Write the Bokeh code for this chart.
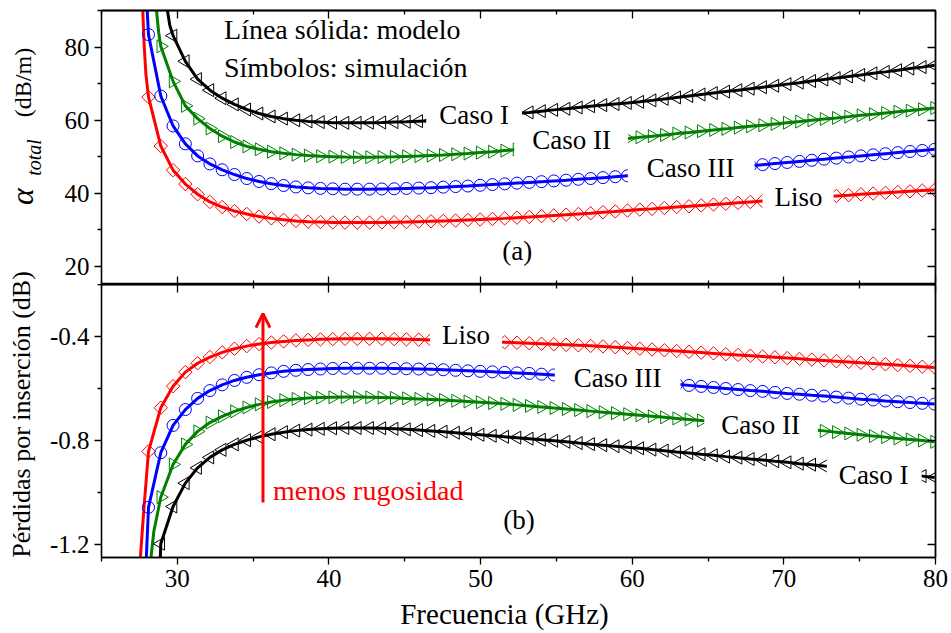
import math
from bokeh.plotting import figure
from bokeh.layouts import column, row
from bokeh.models import (Range1d, LinearAxis, FixedTicker, PrintfTickFormatter,
                          Label, Arrow, OpenHead)
from bokeh.embed import file_html
from bokeh.resources import INLINE

FONT = "Liberation Serif"

# ---------------- data ----------------
freq_sim = [28.10, 28.91, 29.72, 30.53, 31.34, 32.15, 32.96, 33.77, 34.58, 35.39,
            36.20, 37.01, 37.82, 38.63, 39.44, 40.25, 41.06, 41.87, 42.68, 43.49,
            44.30, 45.11, 45.92, 46.73, 47.54, 48.35, 49.16, 49.97, 50.78, 51.59,
            52.40, 53.21, 54.02, 54.83, 55.64, 56.45, 57.26, 58.07, 58.88, 59.69,
            60.50, 61.31, 62.12, 62.93, 63.74, 64.55, 65.36, 66.17, 66.98, 67.79,
            68.60, 69.41, 70.22, 71.03, 71.84, 72.65, 73.46, 74.27, 75.08, 75.89,
            76.70, 77.51, 78.32, 79.13, 79.94]

# (a) alpha_total (dB/m)
liso_a = [66.3, 52.9, 46.3, 42.5, 39.7, 37.6, 36.2, 35.1, 34.3, 33.6,
          33.1, 32.7, 32.4, 32.2, 32.1, 32.0, 31.95, 31.95, 31.95, 32.0,
          32.05, 32.1, 32.2, 32.3, 32.4, 32.5, 32.65, 32.8, 32.95, 33.1,
          33.3, 33.5, 33.7, 33.9, 34.1, 34.3, 34.5, 34.8, 35.0, 35.25,
          35.5, 35.7, 35.95, 36.2, 36.4, 36.65, 36.9, 37.1, 37.35, 37.6,
          37.85, 38.1, 38.3, 38.55, 38.8, 39.0, 39.25, 39.45, 39.7, 39.9,
          40.1, 40.3, 40.5, 40.7, 40.9]
caso3_a = [83.4, 66.6, 58.4, 53.5, 50.2, 48.0, 46.4, 45.1, 44.0, 43.2,
           42.6, 42.1, 41.7, 41.45, 41.3, 41.2, 41.1, 41.1, 41.1, 41.15,
           41.2, 41.3, 41.4, 41.5, 41.65, 41.8, 41.95, 42.15, 42.35, 42.55,
           42.75, 42.95, 43.15, 43.35, 43.55, 43.8, 44.0, 44.25, 44.5, 44.75,
           45.0, 45.25, 45.5, 45.8, 46.05, 46.35, 46.6, 46.9, 47.2, 47.5,
           47.8, 48.1, 48.4, 48.7, 49.0, 49.3, 49.6, 49.9, 50.2, 50.5,
           50.8, 51.1, 51.4, 51.7, 52.0]
caso2_a = [80.2, 70.6, 63.9, 60.4, 57.7, 55.6, 54.0, 52.8, 52.0,
           51.35, 50.9, 50.55, 50.3, 50.1, 50.0, 49.9, 49.85, 49.85, 49.9,
           49.95, 50.05, 50.15, 50.3, 50.45, 50.65, 50.85, 51.1, 51.35, 51.65,
           51.95, 52.3, 52.6, 52.95, 53.3, 53.6, 53.95, 54.3, 54.6, 54.95,
           55.3, 55.6, 55.95, 56.3, 56.6, 56.95, 57.3, 57.6, 57.95, 58.3,
           58.6, 58.95, 59.3, 59.6, 59.95, 60.3, 60.6, 60.95, 61.3, 61.6,
           61.95, 62.3, 62.6, 62.95, 63.3]
caso1_a = [83.1, 76.1, 71.2, 68.2, 66.0, 64.3, 62.9, 61.8,
           61.0, 60.4, 59.95, 59.65, 59.45, 59.3, 59.25, 59.25, 59.3, 59.35,
           59.45, 59.55, 59.7, 59.85, 60.1, 60.35, 60.6, 60.9, 61.2, 61.5,
           61.8, 62.1, 62.45, 62.8, 63.1, 63.45, 63.8, 64.1, 64.4, 64.7,
           65.0, 65.4, 65.8, 66.2, 66.6, 67.0, 67.4, 67.8, 68.2, 68.6,
           69.0, 69.4, 69.85, 70.25, 70.7, 71.1, 71.5, 71.95, 72.35, 72.8,
           73.2, 73.65, 74.1, 74.5, 75.0]

# model curves near cut-off (points before the first simulated point)
liso_a_lead_f = [27.68, 27.74, 27.82, 27.93]
liso_a_lead_v = [96.0, 88.0, 80.0, 72.5]
caso3_a_lead_f = [27.96, 28.02]
caso3_a_lead_v = [96.0, 89.5]
caso2_a_lead_f = [28.55, 28.65, 28.77]
caso2_a_lead_v = [96.0, 89.0, 84.0]
caso1_a_lead_f = [29.25, 29.35, 29.50]
caso1_a_lead_v = [96.0, 90.0, 86.0]

# (b) insertion loss (dB)
liso_b = [-0.842, -0.674, -0.591, -0.537, -0.503, -0.479, -0.461, -0.447, -0.437, -0.429,
          -0.423, -0.419, -0.415, -0.413, -0.411, -0.410, -0.409, -0.409, -0.409, -0.409,
          -0.410, -0.411, -0.412, -0.413, -0.414, -0.415, -0.417, -0.418, -0.420, -0.422,
          -0.424, -0.426, -0.428, -0.430, -0.432, -0.434, -0.436, -0.438, -0.441, -0.444,
          -0.447, -0.450, -0.453, -0.456, -0.459, -0.462, -0.465, -0.468, -0.471, -0.474,
          -0.477, -0.480, -0.483, -0.486, -0.489, -0.492, -0.495, -0.498, -0.501, -0.504,
          -0.507, -0.510, -0.513, -0.516, -0.519]
caso3_b = [-1.057, -0.847, -0.742, -0.681, -0.638, -0.608, -0.586, -0.569, -0.557, -0.547,
           -0.540, -0.534, -0.530, -0.527, -0.525, -0.523, -0.522, -0.522, -0.522, -0.522,
           -0.523, -0.524, -0.525, -0.526, -0.528, -0.530, -0.532, -0.534, -0.536, -0.538,
           -0.540, -0.542, -0.545, -0.548, -0.551, -0.554, -0.557, -0.560, -0.564, -0.568,
           -0.572, -0.576, -0.580, -0.584, -0.588, -0.592, -0.596, -0.600, -0.604, -0.608,
           -0.611, -0.615, -0.619, -0.622, -0.626, -0.629, -0.633, -0.637, -0.641, -0.644,
           -0.648, -0.651, -0.654, -0.657, -0.660]
caso2_b = [-1.018, -0.892, -0.815, -0.765, -0.731, -0.707, -0.688, -0.673, -0.661,
           -0.652, -0.645, -0.640, -0.637, -0.635, -0.634, -0.633, -0.633, -0.634, -0.635,
           -0.636, -0.638, -0.640, -0.642, -0.644, -0.647, -0.650, -0.653, -0.656, -0.659,
           -0.663, -0.667, -0.671, -0.675, -0.679, -0.683, -0.687, -0.691, -0.695, -0.699,
           -0.703, -0.707, -0.711, -0.715, -0.719, -0.723, -0.727, -0.731, -0.735, -0.739,
           -0.743, -0.747, -0.751, -0.755, -0.759, -0.763, -0.768, -0.773, -0.778, -0.783,
           -0.787, -0.792, -0.796, -0.800, -0.805]
caso1_b = [-1.197, -1.054, -0.964, -0.905, -0.865, -0.836, -0.815, -0.799, -0.786,
           -0.776, -0.768, -0.762, -0.758, -0.755, -0.753, -0.752, -0.752, -0.752, -0.753,
           -0.755, -0.757, -0.760, -0.763, -0.766, -0.770, -0.774, -0.778, -0.782, -0.786,
           -0.789, -0.793, -0.797, -0.801, -0.805, -0.810, -0.814, -0.818, -0.822, -0.826,
           -0.830, -0.835, -0.839, -0.844, -0.848, -0.853, -0.857, -0.862, -0.866, -0.871,
           -0.875, -0.880, -0.884, -0.889, -0.893, -0.898, -0.902, -0.907, -0.911, -0.916,
           -0.922, -0.927, -0.932, -0.937, -0.942]

liso_b_lead_f = [27.50, 27.80]
liso_b_lead_v = [-1.30, -1.06]
caso3_b_lead_f = [27.92]
caso3_b_lead_v = [-1.30]
caso2_b_lead_f = [28.17, 28.45]
caso2_b_lead_v = [-1.30, -1.15]
caso1_b_lead_f = [28.85]
caso1_b_lead_v = [-1.30]

# tick positions
x_major_ticks = [30, 40, 50, 60, 70, 80]
x_minor_ticks = [25, 35, 45, 55, 65, 75]
ya_major_ticks = [20, 40, 60, 80]
ya_minor_ticks = [30, 50, 70, 90]
yb_major_ticks = [-1.2, -0.8, -0.4]
yb_minor_ticks = [-1.0, -0.6, -0.2]

colors = {"Liso": "#ff0000", "Caso III": "#0000ff", "Caso II": "#008000", "Caso I": "#000000"}

LEFT_W = 45          # width of the strip holding the vertical titles
TOP_H = 284          # canvas height of panel (a)
BOT_H = 315          # canvas height of panel (b)
XT_H = 633 - TOP_H - BOT_H


# ---------------- helpers ----------------
def labelled_axis(ticks, minor, standoff, fmt):
    ax = LinearAxis(ticker=FixedTicker(ticks=ticks, minor_ticks=minor), formatter=fmt)
    ax.axis_line_color = "black"
    ax.axis_line_width = 1.3
    ax.major_tick_line_color = "black"
    ax.minor_tick_line_color = "black"
    ax.major_tick_line_width = 1.3
    ax.minor_tick_line_width = 1.3
    ax.major_tick_in = 0
    ax.major_tick_out = 7
    ax.minor_tick_in = 0
    ax.minor_tick_out = 4
    ax.major_label_text_font = FONT
    ax.major_label_text_font_size = "25px"
    ax.major_label_text_color = "black"
    ax.major_label_standoff = standoff
    return ax


def inner_ticks(p, side, ticks, length):
    # ticks pointing into the frame, no labels (minor ticks of an axis without major ticks)
    ax = LinearAxis(ticker=FixedTicker(ticks=[], minor_ticks=ticks))
    ax.axis_line_color = "black"
    ax.axis_line_width = 1.3
    ax.major_tick_in = 0
    ax.major_tick_out = 0
    ax.minor_tick_in = length
    ax.minor_tick_out = 0
    ax.minor_tick_line_color = "black"
    ax.minor_tick_line_width = 1.3
    ax.major_label_standoff = 0
    p.add_layout(ax, side)


def make_fig(y0, y1, yticks, yminor, yfmt, frame_h, top_border, bottom_border, xlabels):
    p = figure(frame_width=834, frame_height=frame_h,
               x_range=Range1d(25, 80), y_range=Range1d(y0, y1),
               output_backend="svg", toolbar_location=None,
               x_axis_location=None, y_axis_location=None,
               min_border_left=101 - LEFT_W, min_border_right=16,
               min_border_top=top_border, min_border_bottom=bottom_border)
    p.grid.visible = False
    p.outline_line_color = "black"
    p.outline_line_width = 1.3
    p.background_fill_color = "white"
    p.border_fill_color = "white"
    p.add_layout(labelled_axis(yticks, yminor, 5, yfmt), "left")
    inner_ticks(p, "right", yticks, 8)
    inner_ticks(p, "right", yminor, 4)
    if xlabels:
        p.add_layout(labelled_axis(x_major_ticks, x_minor_ticks, 5,
                                   PrintfTickFormatter(format="%d")), "below")
    else:
        inner_ticks(p, "below", x_major_ticks, 8)
        inner_ticks(p, "below", x_minor_ticks, 4)
    inner_ticks(p, "above", x_major_ticks, 8)
    inner_ticks(p, "above", x_minor_ticks, 4)
    return p


def draw(p, name, sim_y, lead_f, lead_v, marker, size, angle=0.0):
    c = colors[name]
    xs = freq_sim[len(freq_sim) - len(sim_y):]
    p.scatter(xs, sim_y, marker=marker, size=size, angle=angle,
              fill_color=None, line_color=c, line_width=1)
    p.line(lead_f + xs, lead_v + sim_y, line_color=c, line_width=3)


def tag(p, x, y, text, pl, pr, size="27px", color="black", align="center", bg=True):
    kw = dict(x=x, y=y, text=text, text_font=FONT, text_font_size=size,
              text_color=color, text_align=align, text_baseline="middle")
    if bg:
        kw.update(background_fill_color="white",
                  padding=dict(left=pl, right=pr, top=1, bottom=1))
    p.add_layout(Label(**kw))


def plain_fig(w, h):
    f = figure(width=w, height=h, x_range=Range1d(0, w), y_range=Range1d(h, 0),
               output_backend="svg", toolbar_location=None,
               x_axis_location=None, y_axis_location=None,
               min_border=0, min_border_left=0, min_border_right=0,
               min_border_top=0, min_border_bottom=0)
    f.grid.visible = False
    f.outline_line_color = None
    f.background_fill_color = "white"
    f.border_fill_color = "white"
    return f


def vtext(f, x, y, text, size, style="normal"):
    f.add_layout(Label(x=x, y=y, text=text, angle=math.pi / 2, text_font=FONT,
                       text_font_style=style, text_font_size=size, text_color="black",
                       text_align="center", text_baseline="middle"))


# ---------------- panel (a) ----------------
pa = make_fig(15, 90, ya_major_ticks, ya_minor_ticks, PrintfTickFormatter(format="%d"),
              274, 10, 0, False)
draw(pa, "Liso", liso_a, liso_a_lead_f, liso_a_lead_v, "square", 9.5, math.pi / 4)
draw(pa, "Caso III", caso3_a, caso3_a_lead_f, caso3_a_lead_v, "circle", 12)
draw(pa, "Caso II", caso2_a, caso2_a_lead_f, caso2_a_lead_v, "triangle", 13, -math.pi / 2)
draw(pa, "Caso I", caso1_a, caso1_a_lead_f, caso1_a_lead_v, "triangle", 13, math.pi / 2)

tag(pa, 49.57, 61.43, "Caso I", 13, 13)
tag(pa, 55.97, 54.56, "Caso II", 18, 17)
tag(pa, 63.89, 46.87, "Caso III", 19, 20)
tag(pa, 70.94, 38.9, "Liso", 12, 11)
tag(pa, 52.41, 24.2, "(a)", 0, 0, bg=False)
tag(pa, 33.08, 84.8, "Línea sólida: modelo", 0, 0, size="28px", align="left", bg=False)
tag(pa, 33.08, 74.5, "Símbolos: simulación", 0, 0, size="28px", align="left", bg=False)

# ---------------- panel (b) ----------------
pb = make_fig(-1.25, -0.2, yb_major_ticks, yb_minor_ticks, PrintfTickFormatter(format="%.1f"),
              273, 0, BOT_H - 273, True)
draw(pb, "Liso", liso_b, liso_b_lead_f, liso_b_lead_v, "square", 9.5, math.pi / 4)
draw(pb, "Caso III", caso3_b, caso3_b_lead_f, caso3_b_lead_v, "circle", 12)
draw(pb, "Caso II", caso2_b, caso2_b_lead_f, caso2_b_lead_v, "triangle", 13, -math.pi / 2)
draw(pb, "Caso I", caso1_b, caso1_b_lead_f, caso1_b_lead_v, "triangle", 13, math.pi / 2)

tag(pb, 49.04, -0.396, "Liso", 12, 12)
tag(pb, 59.04, -0.5615, "Caso III", 19, 19)
tag(pb, 68.5, -0.741, "Caso II", 17, 18)
tag(pb, 75.96, -0.932, "Caso I", 12, 13)
tag(pb, 52.54, -1.104, "(b)", 0, 0, bg=False)
tag(pb, 36.31, -0.992, "menos rugosidad", 0, 0, size="28px", color="#ff0000",
    align="left", bg=False)

pb.add_layout(Arrow(end=OpenHead(size=14, line_color="#ff0000", line_width=3),
                    x_start=35.65, y_start=-1.038, x_end=35.65, y_end=-0.312,
                    line_color="#ff0000", line_width=3))

# ---------------- title strips (positions in canvas pixels) ----------------
ytitles = plain_fig(LEFT_W, TOP_H + BOT_H)
vtext(ytitles, 21, 196, "α", "32px", "italic")
vtext(ytitles, 33, 157, "total", "20px", "italic")
vtext(ytitles, 22, 82, "(dB/m)", "24px")
vtext(ytitles, 21, 414, "Pérdidas por inserción (dB)", "26px")

xtitle = plain_fig(951, XT_H)
xtitle.add_layout(Label(x=504, y=14, text="Frecuencia (GHz)", text_font=FONT,
                        text_font_size="29px", text_color="black",
                        text_align="center", text_baseline="middle"))

layout = column(row(ytitles, column(pa, pb, spacing=0), spacing=0), xtitle, spacing=0)
open("out.html", "w").write(file_html(layout, INLINE))
